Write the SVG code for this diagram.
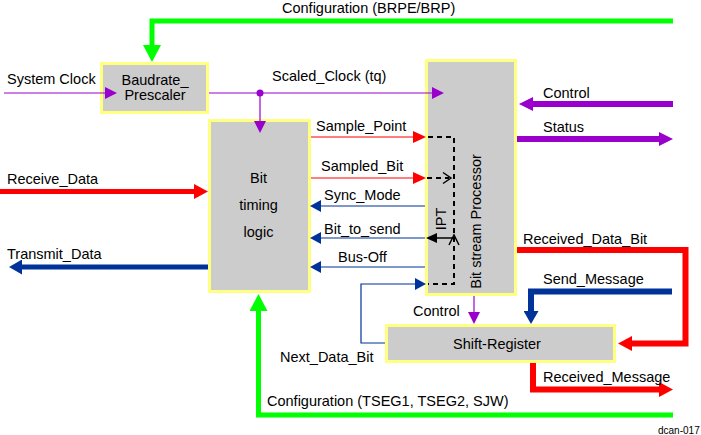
<svg xmlns="http://www.w3.org/2000/svg" width="701" height="435" viewBox="0 0 701 435">
<style>
text{font-family:"Liberation Sans",Arial,sans-serif;font-size:14.5px;fill:#000}
.box{fill:#cccccc;stroke:#ffff80;stroke-width:3}
.c{fill:none;stroke-linejoin:miter;stroke-linecap:butt}
.pur{stroke:#9900cc}
.red{stroke:#ff0000}
.blu{stroke:#003399}
.grn{stroke:#00ff00}
.thin{stroke-width:1.2}
.thick{stroke-width:6}
.dash{fill:none;stroke:#000;stroke-width:2;stroke-dasharray:5,4}
.mid{text-anchor:middle}
</style>
<defs>
<marker id="ps" markerUnits="userSpaceOnUse" markerWidth="12" markerHeight="12" refX="0" refY="6" orient="auto"><path d="M0,0 L12,6 L0,12 z" fill="#9900cc"/></marker>
<marker id="rs" markerUnits="userSpaceOnUse" markerWidth="13" markerHeight="12" refX="0" refY="6" orient="auto"><path d="M0,0 L13,6 L0,12 z" fill="#ff0000"/></marker>
<marker id="bs" markerUnits="userSpaceOnUse" markerWidth="11" markerHeight="12" refX="0" refY="6" orient="auto"><path d="M0,0 L11,6 L0,12 z" fill="#003399"/></marker>
<marker id="pl" markerUnits="userSpaceOnUse" markerWidth="14" markerHeight="14" refX="1" refY="7" orient="auto"><path d="M0,0 L14,7 L0,14 z" fill="#9900cc"/></marker>
<marker id="rl" markerUnits="userSpaceOnUse" markerWidth="14" markerHeight="15" refX="1" refY="7.5" orient="auto"><path d="M0,0 L14,7.5 L0,15 z" fill="#ff0000"/></marker>
<marker id="bl" markerUnits="userSpaceOnUse" markerWidth="13" markerHeight="15" refX="1" refY="7.5" orient="auto"><path d="M0,0 L13,7.5 L0,15 z" fill="#003399"/></marker>
<marker id="gl" markerUnits="userSpaceOnUse" markerWidth="17" markerHeight="18" refX="1" refY="9" orient="auto"><path d="M0,0 L17,9 L0,18 z" fill="#00ff00"/></marker>
</defs>

<g id="baudrate-prescaler">
<rect class="box" x="101.5" y="63.5" width="106" height="49"/>
<text class="mid" x="155" y="84.5">Baudrate_</text>
<text class="mid" x="155" y="99.5">Prescaler</text>
</g>
<g id="bit-timing-logic">
<rect class="box" x="209.5" y="120.5" width="100" height="171"/>
<text class="mid" x="258.5" y="182.5">Bit</text>
<text class="mid" x="258.5" y="209.5">timing</text>
<text class="mid" x="258.5" y="236.5">logic</text>
</g>
<g id="bit-stream-processor">
<rect class="box" x="426.5" y="60.5" width="89" height="234"/>
<text class="mid" transform="translate(481,221.5) rotate(-90)">Bit stream Processor</text>
<text class="mid" transform="translate(446,219) rotate(-90)">IPT</text>
</g>
<g id="shift-register">
<rect class="box" x="386.5" y="325.5" width="228" height="36"/>
<text class="mid" x="497" y="348.5">Shift-Register</text>
</g>

<g id="connectors">
<path class="c pur thin" d="M4,93 H105" marker-end="url(#ps)"/>
<path class="c pur thin" d="M209,93 H432" marker-end="url(#ps)"/>
<circle cx="260" cy="93" r="3.5" fill="#9900cc"/>
<path class="c pur thin" d="M260,93 V121" marker-end="url(#ps)"/>
<path class="c pur thin" d="M474,296 V312" marker-end="url(#ps)"/>
<path class="c red thin" d="M311,137 H413" marker-end="url(#rs)"/>
<path class="c red thin" d="M311,178 H413" marker-end="url(#rs)"/>
<path class="c blu thin" d="M425,206 H321" marker-end="url(#bs)"/>
<path class="c blu thin" d="M425,238 H321" marker-end="url(#bs)"/>
<path class="c blu thin" d="M425,267 H321" marker-end="url(#bs)"/>
<path class="c blu thin" d="M385,343 H361 V284 H415" marker-end="url(#bs)"/>
<path class="dash" d="M428,137 H454 V284 H428"/>
<path class="dash" d="M427,178 H449" stroke-dasharray="4,4"/>
<path d="M443,172.5 L451,178 L443,183.5" fill="none" stroke="#000" stroke-width="1.5"/>
<path d="M449,245 L454,235 L459,245" fill="none" stroke="#000" stroke-width="1.5"/>
<path d="M454,238 H436" fill="none" stroke="#000" stroke-width="1.5"/>
<path d="M437,233 L426,238 L437,243 z" fill="#000"/>
<path class="c grn" stroke-width="5" d="M673,21 H152 V46" marker-end="url(#gl)"/>
<path class="c grn" stroke-width="5" d="M673,415 H258.5 V310" marker-end="url(#gl)"/>
<path class="c pur thick" d="M673,104 H532" marker-end="url(#pl)"/>
<path class="c pur thick" d="M517,139 H660" marker-end="url(#pl)"/>
<path class="c red" stroke-width="5" d="M0,191.5 H195" marker-end="url(#rl)"/>
<path class="c blu" stroke-width="5" d="M208,267 H21" marker-end="url(#bl)"/>
<path class="c red thick" d="M517,250 H685.5 V343.5 H631" marker-end="url(#rl)"/>
<path class="c blu thick" d="M672,291.5 H531 V312" marker-end="url(#bl)"/>
<path class="c red thick" d="M533,363 V389.5 H660" marker-end="url(#rl)"/>
</g>

<g id="labels">
<text x="282" y="12.5">Configuration (BRPE/BRP)</text>
<text x="7" y="84">System Clock</text>
<text x="272" y="80.5">Scaled_Clock (tq)</text>
<text x="543" y="97.5">Control</text>
<text x="543" y="132">Status</text>
<text x="316" y="130.5">Sample_Point</text>
<text x="321" y="170.5">Sampled_Bit</text>
<text x="324" y="199.5">Sync_Mode</text>
<text x="324" y="233.5">Bit_to_send</text>
<text x="338" y="262">Bus-Off</text>
<text x="7" y="183.5">Receive_Data</text>
<text x="7" y="258.5">Transmit_Data</text>
<text x="523" y="243.5">Received_Data_Bit</text>
<text x="543" y="284">Send_Message</text>
<text x="413" y="315.5">Control</text>
<text x="280" y="361.5">Next_Data_Bit</text>
<text x="543" y="381.5">Received_Message</text>
<text x="267" y="405.5">Configuration (TSEG1, TSEG2, SJW)</text>
<text x="658" y="434" style="font-size:10px">dcan-017</text>
</g>
</svg>
